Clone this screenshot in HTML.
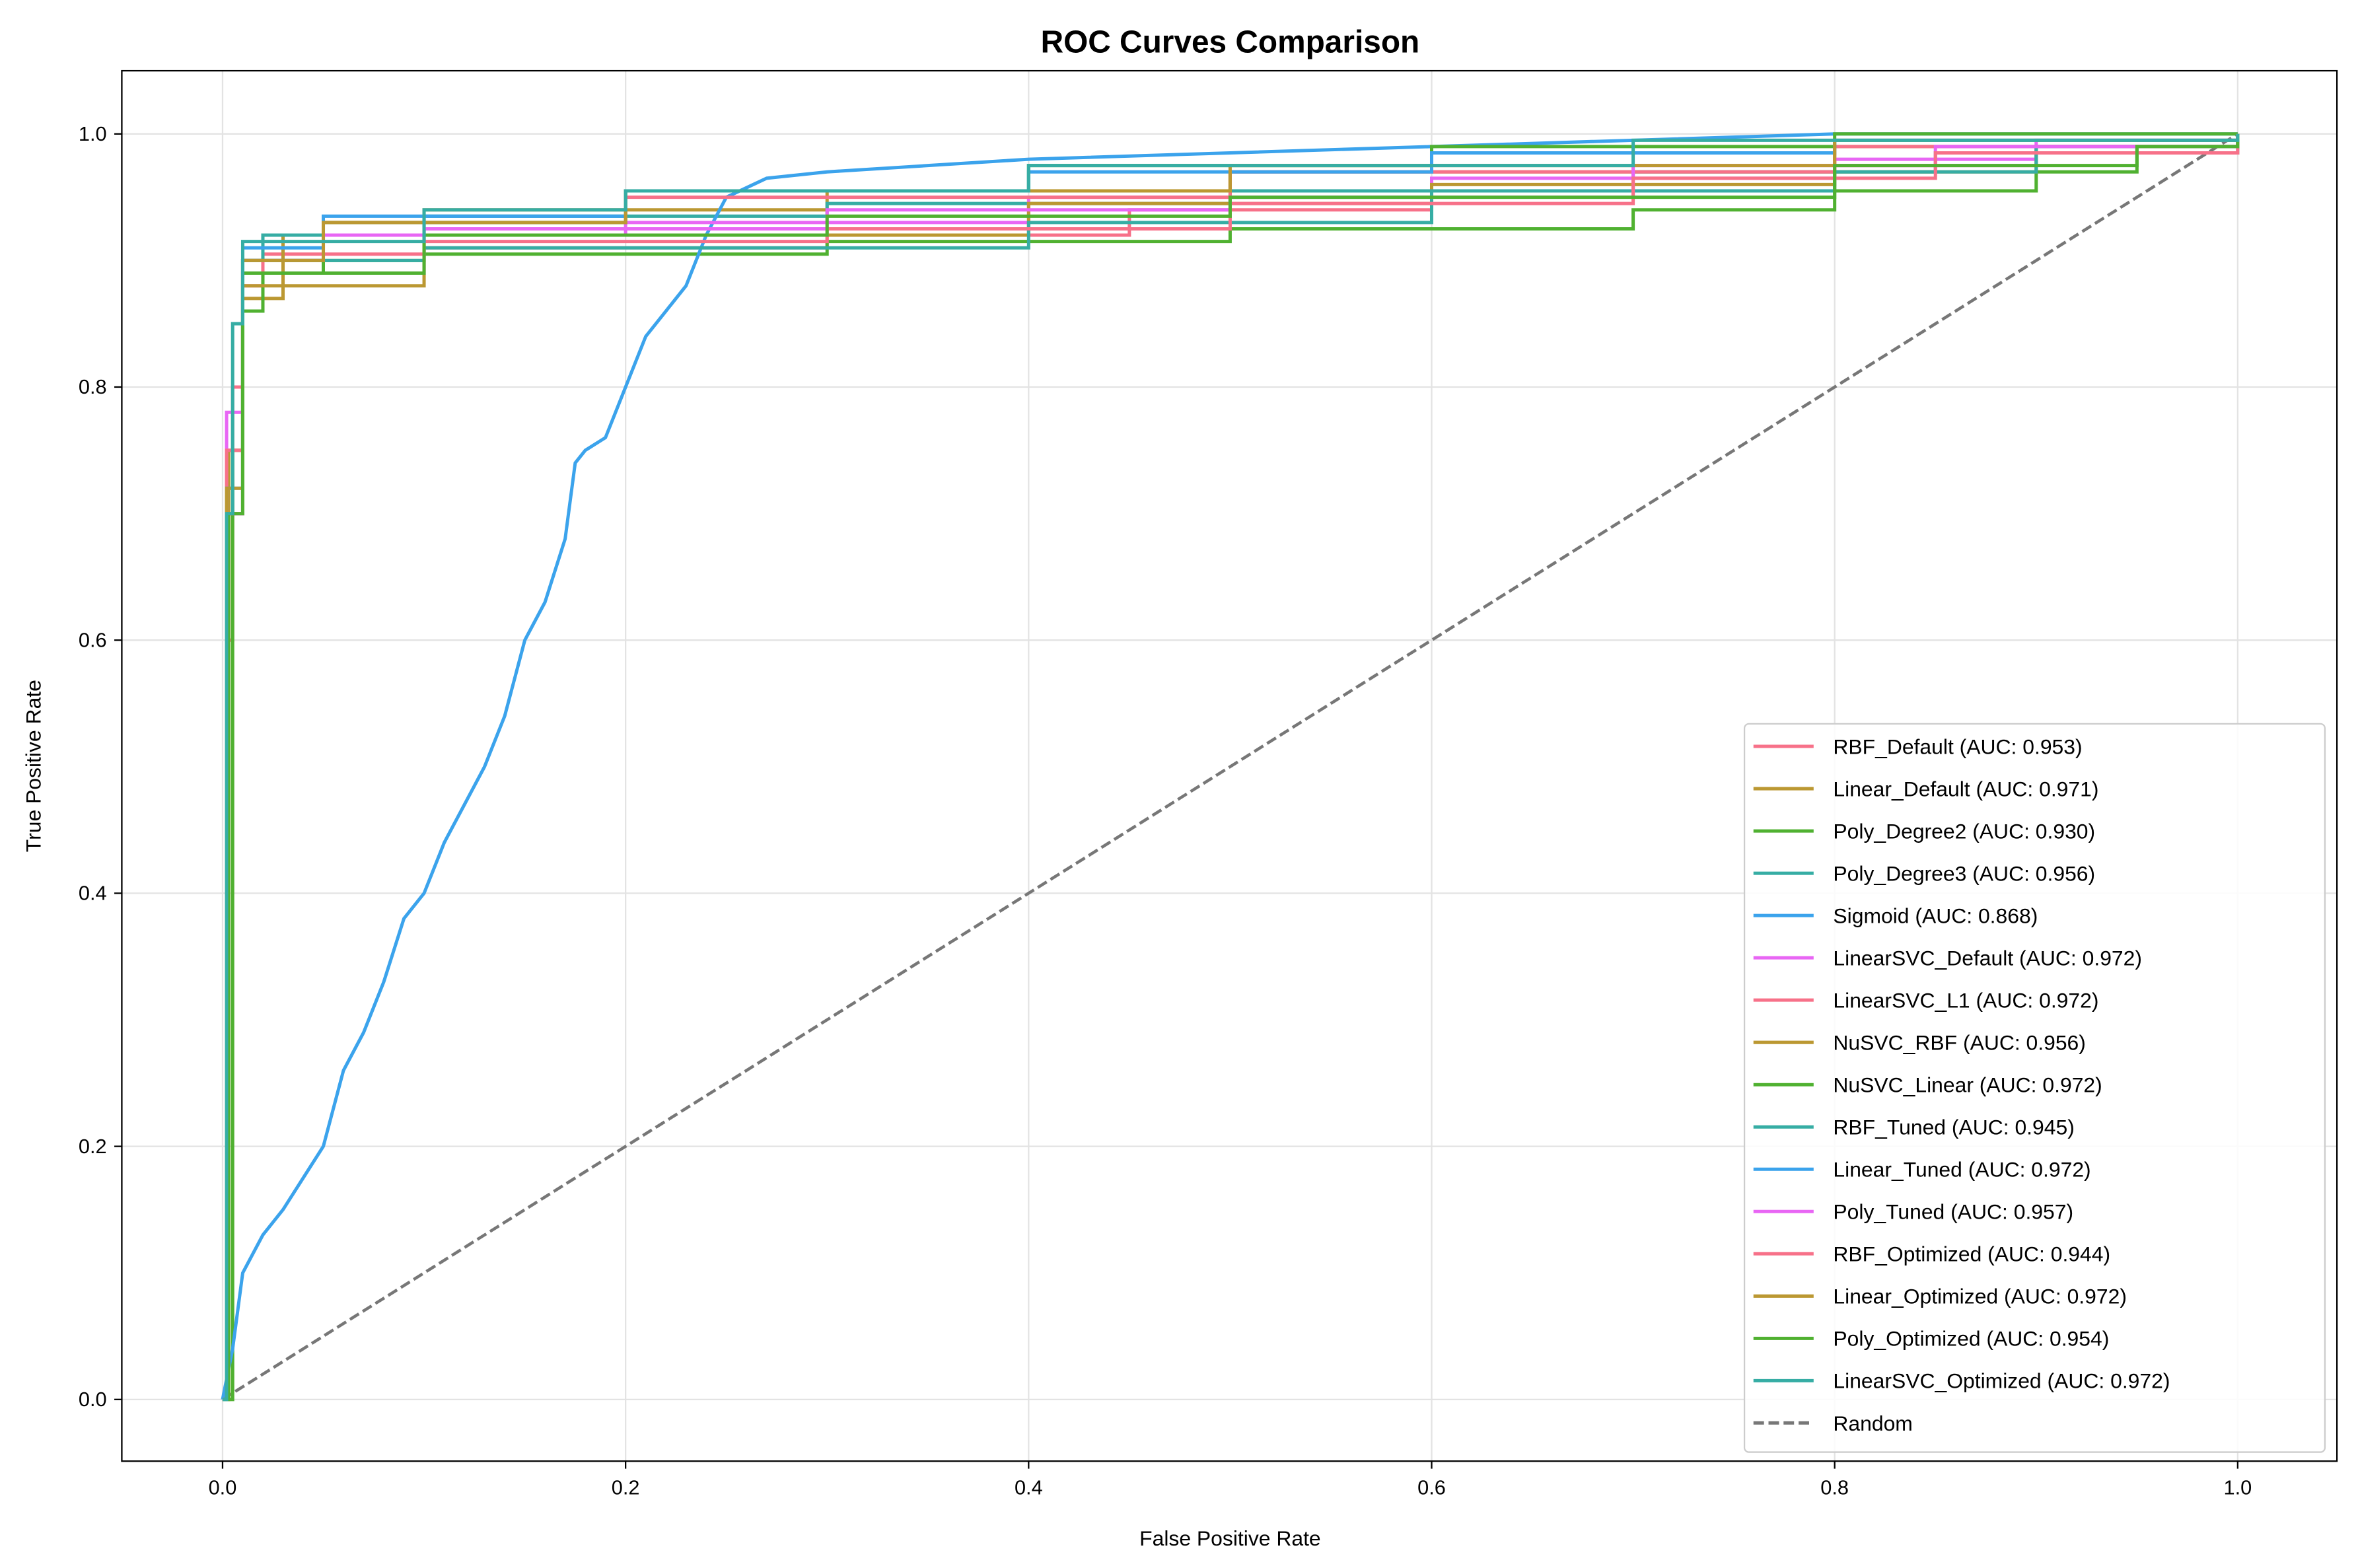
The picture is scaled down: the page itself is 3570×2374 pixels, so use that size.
<!DOCTYPE html>
<html><head><meta charset="utf-8">
<style>
html,body{margin:0;padding:0;background:#fff;}
svg{display:block;font-family:"Liberation Sans","DejaVu Sans",sans-serif;}
</style></head>
<body>
<svg id="chart" width="3570" height="2374" viewBox="0 0 1568 1042" preserveAspectRatio="none" xmlns="http://www.w3.org/2000/svg">
<rect x="0" y="0" width="1568" height="1042" fill="#fff"/>
<text x="818" y="35" text-anchor="middle" font-size="21" font-weight="bold">ROC Curves Comparison</text>
<g id="grid"></g>
<g id="curves"></g>
<rect x="81" y="47" width="1473" height="924" fill="none" stroke="#000" stroke-width="1"/>
<g id="ticks"></g>
<text x="818" y="1027" text-anchor="middle" font-size="14">False Positive Rate</text>
<text transform="translate(27,509) rotate(-90)" text-anchor="middle" font-size="14">True Positive Rate</text>
<g id="legend"></g>
</svg>
<script>
const tickValues = [0, 0.2, 0.4, 0.6, 0.8, 1.0];
const tickLabels = ["0.0","0.2","0.4","0.6","0.8","1.0"];
const seriesNames = ["RBF_Default (AUC: 0.953)","Linear_Default (AUC: 0.971)","Poly_Degree2 (AUC: 0.930)","Poly_Degree3 (AUC: 0.956)","Sigmoid (AUC: 0.868)","LinearSVC_Default (AUC: 0.972)","LinearSVC_L1 (AUC: 0.972)","NuSVC_RBF (AUC: 0.956)","NuSVC_Linear (AUC: 0.972)","RBF_Tuned (AUC: 0.945)","Linear_Tuned (AUC: 0.972)","Poly_Tuned (AUC: 0.957)","RBF_Optimized (AUC: 0.944)","Linear_Optimized (AUC: 0.972)","Poly_Optimized (AUC: 0.954)","LinearSVC_Optimized (AUC: 0.972)"];
const seriesColors = ["#f77189","#bb9832","#50b131","#36ada4","#3ba3ec","#e866f4"];
const fpr = [
[0,0.002,0.005,0.01,0.02,0.1,0.3,0.45,0.6,0.8,0.9,1],
[0,0.003,0.01,0.03,0.1,0.3,0.5,0.8,1],
[0,0.005,0.01,0.02,0.05,0.1,0.3,0.5,0.7,0.8,0.9,0.95,1],
[0,0.002,0.01,0.02,0.1,0.3,0.5,0.7,0.85,1],
[0,0.005,0.01,0.02,0.03,0.05,0.06,0.07,0.08,0.09,0.1,0.11,0.12,0.13,0.14,0.15,0.16,0.17,0.175,0.18,0.19,0.2,0.21,0.22,0.23,0.24,0.25,0.27,0.3,0.35,0.4,0.5,0.6,0.8,1],
[0,0.002,0.01,0.05,0.2,0.4,0.6,0.8,0.9,1],
[0,0.002,0.01,0.05,0.2,0.5,0.8,1],
[0,0.003,0.01,0.1,0.4,0.6,0.8,0.9,1],
[0,0.002,0.01,0.05,0.2,0.4,0.6,0.8,1],
[0,0.002,0.01,0.1,0.4,0.6,0.8,0.9,1],
[0,0.002,0.01,0.05,0.2,0.4,0.6,0.8,1],
[0,0.002,0.01,0.1,0.3,0.5,0.7,0.85,1],
[0,0.002,0.01,0.1,0.3,0.5,0.7,0.85,1],
[0,0.002,0.01,0.05,0.2,0.5,0.8,1],
[0,0.003,0.01,0.1,0.3,0.5,0.8,0.95,1],
[0,0.002,0.005,0.01,0.1,0.2,0.4,0.7,1]
];
const tpr = [
[0,0.6,0.8,0.88,0.905,0.91,0.92,0.94,0.955,0.975,0.99,1],
[0,0.75,0.87,0.92,0.94,0.955,0.97,0.99,1],
[0,0.75,0.86,0.89,0.9,0.905,0.915,0.925,0.94,0.955,0.97,0.99,1],
[0,0.7,0.9,0.92,0.935,0.945,0.955,0.97,0.985,1],
[0,0.04,0.1,0.13,0.15,0.2,0.26,0.29,0.33,0.38,0.4,0.44,0.47,0.5,0.54,0.6,0.63,0.68,0.74,0.75,0.76,0.8,0.84,0.86,0.88,0.92,0.95,0.965,0.97,0.975,0.98,0.985,0.99,1,1],
[0,0.78,0.9,0.92,0.93,0.95,0.965,0.98,0.995,1],
[0,0.75,0.9,0.93,0.95,0.97,0.99,1],
[0,0.7,0.88,0.92,0.945,0.96,0.97,0.99,1],
[0,0.7,0.9,0.93,0.955,0.975,0.99,1,1],
[0,0.7,0.9,0.91,0.93,0.955,0.97,0.99,1],
[0,0.72,0.91,0.935,0.955,0.97,0.985,0.995,1],
[0,0.7,0.89,0.925,0.94,0.95,0.975,0.99,1],
[0,0.7,0.89,0.915,0.925,0.945,0.965,0.985,1],
[0,0.72,0.9,0.93,0.955,0.975,0.995,1],
[0,0.7,0.89,0.92,0.935,0.95,0.975,0.99,1],
[0,0.7,0.85,0.915,0.94,0.955,0.975,0.995,1]
];
const NS="http://www.w3.org/2000/svg";
const X0=148, XW=1340, Y0=930, YH=841;
function sx(v){return X0+v*XW;}
function sy(v){return Y0-v*YH;}
function mk(tag,attrs,parent){const e=document.createElementNS(NS,tag);for(const k in attrs)e.setAttribute(k,attrs[k]);parent.appendChild(e);return e;}
const grid=document.getElementById('grid'), ticks=document.getElementById('ticks');
tickValues.forEach((v,i)=>{
  let g=mk('line',{x1:sx(v),x2:sx(v),y1:47,y2:971,stroke:'#e3e3e3','stroke-width':1},grid);
  
  
  g=mk('line',{x1:81,x2:1554,y1:sy(v),y2:sy(v),stroke:'#e3e3e3','stroke-width':1},grid);
  
  
  let t=mk('line',{x1:sx(v),x2:sx(v),y1:971,y2:976,stroke:'#000'},ticks);
  
  
  let l=mk('text',{x:sx(v),y:993,'text-anchor':'middle','font-size':'13.5'},ticks);l.textContent=tickLabels[i];
  
  
  t=mk('line',{x1:76,x2:81,y1:sy(v),y2:sy(v),stroke:'#000'},ticks);
  
  
  l=mk('text',{x:71,y:sy(v)+4.5,'text-anchor':'end','font-size':'13.5'},ticks);l.textContent=tickLabels[i];
  
  
});
const curves=document.getElementById('curves');
const rnd=mk('line',{x1:sx(0),y1:sy(0),x2:sx(1),y2:sy(1),stroke:'#777','stroke-width':2,'stroke-dasharray':'7,3'},curves);


fpr.forEach((xs,i)=>{
  const ys=tpr[i];
  let d='M'+sx(xs[0])+','+sy(ys[0]);
  for(let k=1;k<xs.length;k++){
    if(i===4){d+=' L'+sx(xs[k])+','+sy(ys[k]);}
    else{d+=' L'+sx(xs[k])+','+sy(ys[k-1])+' L'+sx(xs[k])+','+sy(ys[k]);}
  }
  const p=mk('path',{d:d,fill:'none',stroke:seriesColors[i%6],'stroke-width':2.2},curves);
  
  
});
const lg=document.getElementById('legend');
const box=mk('rect',{x:1160,y:481,width:386,height:484,fill:'#fff','fill-opacity':0.85,stroke:'#ccc',rx:3},lg);


const names=seriesNames.concat(['Random']);
names.forEach((n,i)=>{
  const y=496+i*28.1;
  const col=i<16?seriesColors[i%6]:'#777';
  const ln=mk('line',{x1:1166,x2:1206,y1:y,y2:y,stroke:col,'stroke-width':2.2},lg);
  if(i==16)ln.setAttribute('stroke-dasharray','7,3');
  
  
  const t=mk('text',{x:1219,y:y+5,'font-size':'14'},lg);t.textContent=n;
  
  
});
</script>
</body></html>
